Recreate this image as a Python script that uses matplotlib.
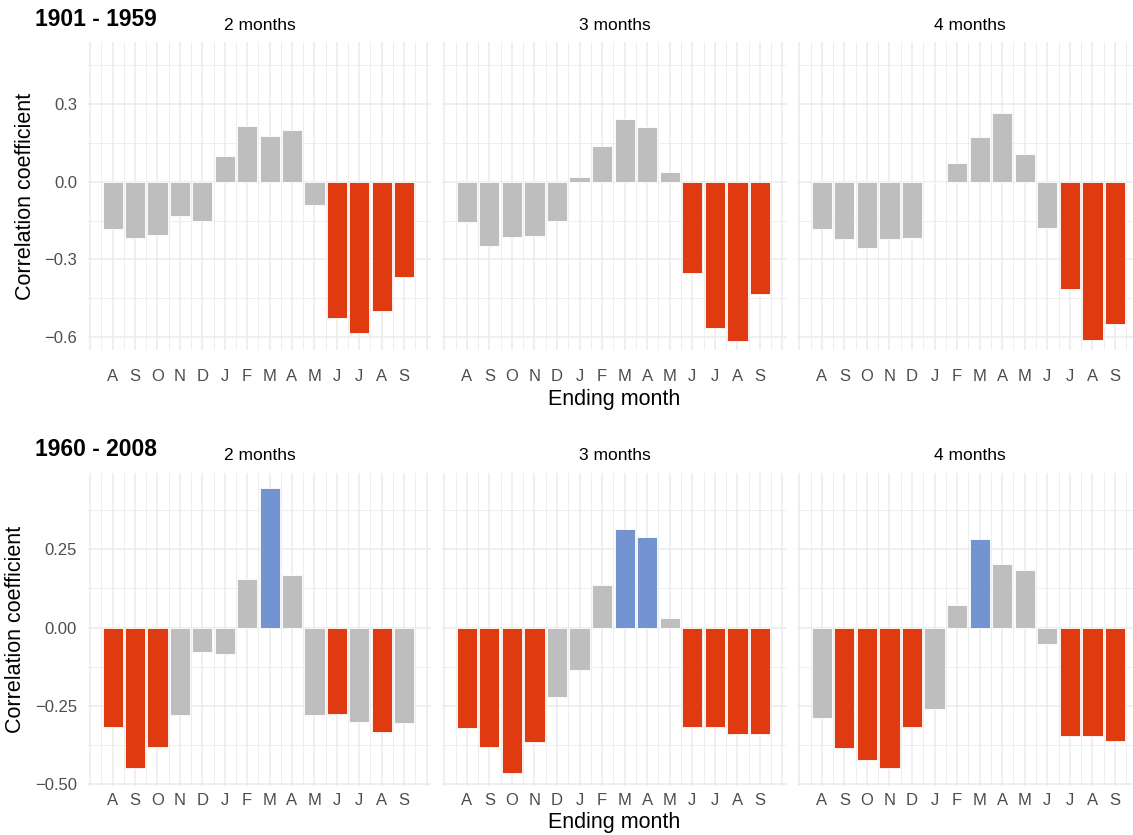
import numpy as np
import matplotlib.pyplot as plt

plt.rcParams['font.family'] = ['Liberation Sans', 'DejaVu Sans']

months = ['A', 'S', 'O', 'N', 'D', 'J', 'F', 'M', 'A', 'M', 'J', 'J', 'A', 'S']
windows = ['2 months', '3 months', '4 months']
periods = ['1901 - 1959', '1960 - 2008']

# correlation coefficients, 1901 - 1959
early_2m = [-0.183, -0.219, -0.206, -0.133, -0.152, 0.099, 0.216, 0.176, 0.200, -0.088, -0.528, -0.585, -0.501, -0.367]
early_3m = [-0.155, -0.247, -0.212, -0.210, -0.151, 0.018, 0.139, 0.243, 0.212, 0.037, -0.354, -0.565, -0.615, -0.434]
early_4m = [-0.183, -0.221, -0.254, -0.221, -0.216, 0.0, 0.073, 0.173, 0.264, 0.106, -0.180, -0.416, -0.610, -0.551]

# correlation coefficients, 1960 - 2008
late_2m = [-0.318, -0.450, -0.380, -0.279, -0.079, -0.083, 0.156, 0.446, 0.169, -0.280, -0.276, -0.303, -0.332, -0.306]
late_3m = [-0.322, -0.381, -0.466, -0.365, -0.222, -0.136, 0.136, 0.314, 0.291, 0.031, -0.316, -0.317, -0.340, -0.340]
late_4m = [-0.289, -0.386, -0.423, -0.450, -0.317, -0.259, 0.071, 0.283, 0.204, 0.185, -0.053, -0.346, -0.347, -0.361]

# significance: -1 significant negative, 1 significant positive, 0 not significant
early_sig_2m = [0, 0, 0, 0, 0, 0, 0, 0, 0, 0, -1, -1, -1, -1]
early_sig_3m = [0, 0, 0, 0, 0, 0, 0, 0, 0, 0, -1, -1, -1, -1]
early_sig_4m = [0, 0, 0, 0, 0, 0, 0, 0, 0, 0, 0, -1, -1, -1]
late_sig_2m = [-1, -1, -1, 0, 0, 0, 0, 1, 0, 0, -1, 0, -1, 0]
late_sig_3m = [-1, -1, -1, -1, 0, 0, 0, 1, 1, 0, -1, -1, -1, -1]
late_sig_4m = [0, -1, -1, -1, -1, 0, 0, 1, 0, 0, 0, -1, -1, -1]

data = [[early_2m, early_3m, early_4m], [late_2m, late_3m, late_4m]]
sigs = [[early_sig_2m, early_sig_3m, early_sig_4m], [late_sig_2m, late_sig_3m, late_sig_4m]]

sig_colors = {-1: '#E03A10', 0: '#BEBEBE', 1: '#7394D0'}
grid_col = '#EBEBEB'
tick_col = '#4D4D4D'

W, H = 1133, 835
fig = plt.figure(figsize=(W / 100, H / 100), dpi=100)

# panel geometry in pixels (left, right) and (top, bottom)
cols_px = [(88, 431), (442, 787), (797, 1142)]
rows_px = [(42, 350), (473, 786)]
row_ylim = [(-0.65, 0.54), (-0.506, 0.494)]
row_major = [[-0.6, -0.3, 0.0, 0.3], [-0.5, -0.25, 0.0, 0.25]]
row_minor = [[-0.45, -0.15, 0.15, 0.45], [-0.375, -0.125, 0.125, 0.375]]
row_fmt = ['{:.1f}', '{:.2f}']

x = np.arange(len(months))

for r in range(2):
    top, bot = rows_px[r]
    for c in range(3):
        left, right = cols_px[c]
        ax = fig.add_axes([left / W, 1 - bot / H, (right - left) / W, (bot - top) / H])
        ax.set_xlim(-1.1, 14.2)
        ax.set_ylim(*row_ylim[r])
        for s in ax.spines.values():
            s.set_visible(False)
        # grid
        for gx in np.arange(-1, 14.01, 1.0):
            ax.axvline(gx, color=grid_col, lw=1.1, zorder=0)
        for gx in np.arange(-0.5, 14.01, 1.0):
            ax.axvline(gx, color=grid_col, lw=0.6, zorder=0)
        for gy in row_major[r]:
            ax.axhline(gy, color=grid_col, lw=1.1, zorder=0)
        for gy in row_minor[r]:
            ax.axhline(gy, color=grid_col, lw=0.6, zorder=0)

        vals = data[r][c]
        cols = [sig_colors[s] for s in sigs[r][c]]
        ax.bar(x, vals, width=0.9, color=cols, edgecolor='white', linewidth=0.6, zorder=2)

        ax.set_xticks(x)
        ax.set_xticklabels(months, fontsize=12, color=tick_col)
        ax.set_yticks(row_major[r])
        if c == 0:
            ax.set_yticklabels([row_fmt[r].format(v).replace('-', '\u2212') for v in row_major[r]],
                               fontsize=12, color=tick_col)
            ax.set_ylabel('Correlation coefficient', fontsize=15.5, labelpad=6)
        else:
            ax.set_yticklabels([])
        ax.tick_params(axis='y', length=0, pad=8)
        ax.tick_params(axis='x', length=0, pad=14 if r == 0 else 5)
        if c == 1:
            ax.set_xlabel('Ending month', fontsize=15.5, labelpad=3)
        ax.set_title(windows[c], fontsize=12.5, pad=9)

fig.text(35 / W, 1 - 20 / H, periods[0], fontsize=16.5, fontweight='bold', va='center', ha='left')
fig.text(35 / W, 1 - 450 / H, periods[1], fontsize=16.5, fontweight='bold', va='center', ha='left')

fig.savefig('out.png', dpi=100, facecolor='white')
